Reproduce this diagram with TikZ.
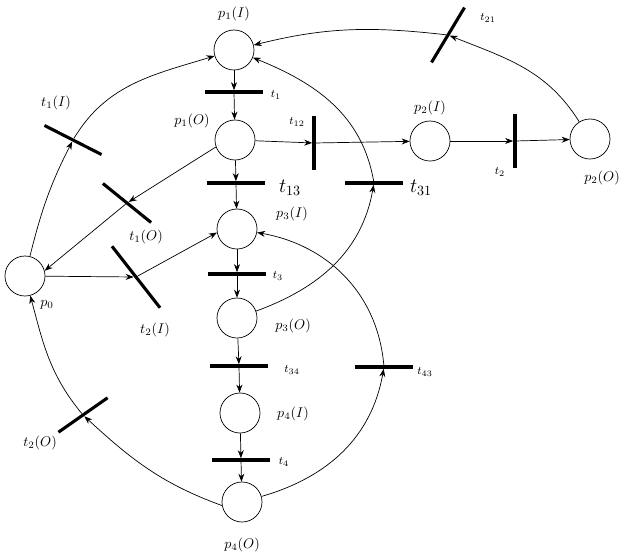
\documentclass[tikz,border=0pt]{standalone}
\usetikzlibrary{arrows.meta,positioning}

\begin{document}
\begin{tikzpicture}[
    x=0.025cm, y=-0.025cm,
    place/.style={circle, draw, line width=0.5pt, minimum size=1cm, inner sep=0pt},
    trans/.style={rectangle, fill=black, minimum width=1.45cm, minimum height=2.2pt, inner sep=0pt},
    arc/.style={-{Stealth[length=2mm, width=1.5mm]}, line width=0.5pt},
    lbl/.style={font=\normalsize},
    small/.style={font=\footnotesize},
    big/.style={font=\Large},
]
\useasboundingbox (0,0) rectangle (621,554);

% ================== Places ==================
\node[place] (p1I) at (234,50) {};
\node[place] (p1O) at (235,140) {};
\node[place] (p2I) at (430,141) {};
\node[place] (p2O) at (590,139) {};
\node[place] (p3I) at (237,229) {};
\node[place] (p0)  at (25,276) {};
\node[place] (p3O) at (237,318) {};
\node[place] (p4I) at (240,413) {};
\node[place] (p4O) at (242,502) {};

% ================== Transitions ==================
\node[trans] (t1)  at (234,92) {};
\node[trans] (t13) at (236,183) {};
\node[trans] (t3)  at (237,274) {};
\node[trans] (t34) at (239,366) {};
\node[trans] (t4)  at (241,460) {};
\node[trans] (t31) at (374,183) {};
\node[trans] (t43) at (384,367) {};
\node[trans, rotate=90, minimum width=1.35cm] (t12) at (314,143) {};
\node[trans, rotate=90, minimum width=1.35cm] (t2)  at (515,141) {};
\node[trans, rotate=59, minimum width=1.6cm] (t21) at (448,35) {};
\node[trans, rotate=-27, minimum width=1.6cm] (t1I) at (73,140) {};
\node[trans, rotate=-39, minimum width=1.55cm] (t1O) at (127,203) {};
\node[trans, rotate=-52, minimum width=1.95cm] (t2I) at (136,277) {};
\node[trans, rotate=35, minimum width=1.5cm] (t2O) at (83,415) {};

% ================== Labels ==================
\node[lbl] (lp1I) at (234,14) {$p_1(I)$};
\node[lbl] (lp1O) at (192,121) {$p_1(O)$};
\node[lbl] (lp2I) at (430,108) {$p_2(I)$};
\node[lbl] (lp2O) at (602,178) {$p_2(O)$};
\node[lbl] (lp3I) at (292,214) {$p_3(I)$};
\node[lbl] (lp3O) at (293,326) {$p_3(O)$};
\node[lbl] (lp4I) at (293,414) {$p_4(I)$};
\node[lbl] (lp4O) at (242,545) {$p_4(O)$};
\node[lbl] (lp0)  at (47,305) {$p_0$};
\node[small] (lt1)  at (276,95) {$t_1$};
\node[small] (lt12) at (297,122) {$t_{12}$};
\node[big]   (lt13) at (290,188) {$t_{13}$};
\node[small] (lt2)  at (500,172) {$t_2$};
\node[small] (lt21) at (488,18) {$t_{21}$};
\node[big]   (lt31) at (421,188) {$t_{31}$};
\node[small] (lt3)  at (278,276) {$t_3$};
\node[small] (lt34) at (292,370) {$t_{34}$};
\node[small] (lt4)  at (284,462) {$t_4$};
\node[small] (lt43) at (425,372) {$t_{43}$};
\node[lbl] (lt1I) at (56,103) {$t_1(I)$};
\node[lbl] (lt1O) at (146,237) {$t_1(O)$};
\node[lbl] (lt2I) at (155,330) {$t_2(I)$};
\node[lbl] (lt2O) at (40,443) {$t_2(O)$};

% ================== Main column ==================
\draw[arc] (p1I) -- (t1);
\draw[arc] (t1) -- (p1O);
\draw[arc] (p1O) -- (t13);
\draw[arc] (t13) -- (p3I);
\draw[arc] (p3I) -- (t3);
\draw[arc] (t3) -- (p3O);
\draw[arc] (p3O) -- (t34);
\draw[arc] (t34) -- (p4I);
\draw[arc] (p4I) -- (t4);
\draw[arc] (t4) -- (p4O);

% ================== Branch to p2 ==================
\draw[arc] (p1O) -- (t12);
\draw[arc] (t12) -- (p2I);
\draw[arc] (p2I) -- (t2);
\draw[arc] (t2) -- (p2O);
\draw[arc] (p2O) to[out=122, in=-25] (t21);
\draw[arc] (t21) to[out=168, in=14] (p1I);

% ================== Loops back ==================
\draw[arc] (p3O) to[out=20, in=-100] (t31);
\draw[arc] (t31) to[out=100, in=-22] (p1I);
\draw[arc] (p4O) to[out=16, in=-100] (t43);
\draw[arc] (t43) to[out=95, in=-10] (p3I);

% ================== Around p0 ==================
\draw[arc] (p0) to[out=76, in=-116] (t1I);
\draw[arc] (t1I) to[out=60, in=197] (p1I);
\draw[arc] (p1O.200) -- (t1O);
\draw[arc] (t1O) -- (p0.15);
\draw[arc] (p0) -- (t2I);
\draw[arc] (t2I) -- (p3I.190);
\draw[arc] (p4O.190) to[out=160, in=-44] (t2O);
\draw[arc] (t2O) to[out=128, in=-75] (p0);

\end{tikzpicture}
\end{document}
